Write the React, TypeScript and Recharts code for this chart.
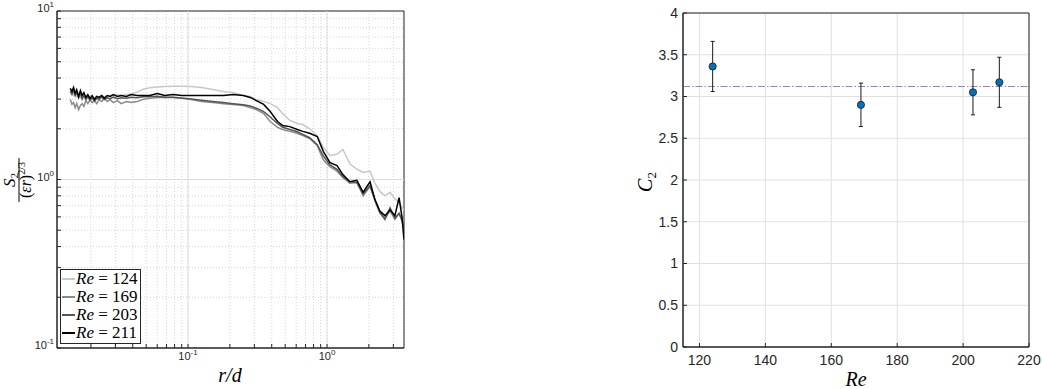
import React from 'react';
import {
  LineChart, Line, XAxis, YAxis, CartesianGrid, ReferenceLine, ReferenceArea, Legend, Label,
  ScatterChart, Scatter, ErrorBar,
} from 'recharts';

// left panel: normalised structure function vs r/d
const rOverD = [
  0.0142, 0.0146, 0.015, 0.0154, 0.0158, 0.0163, 0.0168, 0.0173, 0.0178, 0.0184,
  0.019, 0.0197, 0.0204, 0.0212, 0.022, 0.0229, 0.0239, 0.025, 0.0262, 0.0275,
  0.029, 0.031, 0.033, 0.036, 0.039, 0.043, 0.047, 0.053, 0.06, 0.068,
  0.078, 0.09, 0.105, 0.125, 0.15, 0.18, 0.21, 0.25, 0.28, 0.31,
  0.35, 0.39, 0.44, 0.48, 0.54, 0.61, 0.67, 0.75, 0.85, 0.94,
  1.05, 1.18, 1.3, 1.46, 1.64, 1.82, 2.04, 2.21, 2.4, 2.61,
  2.84, 3.08, 3.3, 3.46, 3.58,
];
const s2Re124 = [
  3.2, 3.3, 3.15, 3.25, 3.1, 3.2, 3.05, 3.15, 3.1, 3.05,
  3.12, 3.0, 3.1, 3.05, 3.12, 3.08, 3.15, 3.1, 3.12, 3.15,
  3.15, 3.18, 3.15, 3.2, 3.22, 3.3, 3.42, 3.5, 3.54, 3.56,
  3.58, 3.58, 3.56, 3.52, 3.42, 3.33, 3.28, 3.15, 3.11, 2.98,
  2.9, 2.82, 2.67, 2.46, 2.24, 2.15, 2.12, 2.0, 1.82, 1.55,
  1.39, 1.41, 1.51, 1.24, 1.15, 1.1, 1.12, 0.95, 0.85, 0.8,
  0.84, 0.77, 0.73, 0.68, 0.66,
];
const s2Re169 = [
  2.98, 2.79, 2.86, 2.67, 2.82, 2.6, 2.75, 2.82, 2.71, 2.94,
  2.82, 2.98, 2.86, 2.94, 2.82, 2.98, 2.9, 3.03, 2.9, 2.98,
  2.86, 2.94, 2.82, 2.9, 2.86, 2.9, 2.98, 3.03, 3.07, 3.07,
  3.07, 3.03, 2.98, 2.9, 2.86, 2.82, 2.79, 2.75, 2.67, 2.6,
  2.46, 2.21, 2.04, 1.98, 1.93, 1.88, 1.82, 1.75, 1.59, 1.31,
  1.19, 1.12, 1.03, 0.95, 0.96, 0.8, 0.91, 0.75, 0.63, 0.59,
  0.65, 0.58, 0.63, 0.59, 0.6,
];
const s2Re203 = [
  3.35, 3.2, 3.4, 3.15, 3.3, 3.05, 3.25, 3.0, 3.15, 2.98,
  3.1, 2.95, 3.05, 2.92, 3.02, 3.0, 3.08, 2.98, 3.05, 3.02,
  3.08, 3.02, 3.06, 3.04, 3.08, 3.06, 3.1, 3.1, 3.12, 3.08,
  3.08, 3.05, 3.0, 2.95, 2.9, 2.86, 2.82, 2.78, 2.73, 2.65,
  2.53, 2.35, 2.15, 2.04, 1.98, 1.92, 1.85, 1.77, 1.61, 1.38,
  1.22, 1.15, 1.04, 0.97, 0.96, 0.82, 0.92, 0.76, 0.64, 0.58,
  0.68, 0.59, 0.63, 0.57, 0.52,
];
const s2Re211 = [
  3.47, 3.33, 3.52, 3.24, 3.41, 3.11, 3.37, 3.15, 3.28, 3.07,
  3.19, 3.03, 3.15, 2.98, 3.11, 3.07, 3.15, 3.03, 3.15, 3.11,
  3.19, 3.11, 3.15, 3.11, 3.19, 3.15, 3.15, 3.15, 3.24, 3.15,
  3.19, 3.15, 3.15, 3.15, 3.15, 3.15, 3.19, 3.15, 3.07, 2.94,
  2.79, 2.53, 2.21, 2.09, 2.06, 1.98, 1.93, 1.88, 1.8, 1.47,
  1.26, 1.21, 1.07, 0.97, 0.99, 0.84, 0.97, 0.76, 0.65, 0.61,
  0.66, 0.61, 0.78, 0.6, 0.44,
];
const reLabels = ['124', '169', '203', '211'];
const lineColors = ['#c8c8c8', '#8a8a8a', '#555555', '#000000'];

const xMajor = [0.1, 1];
const xTicksAll = [0.02, 0.03, 0.04, 0.05, 0.06, 0.07, 0.08, 0.09, 0.1, 0.2, 0.3, 0.4, 0.5, 0.6, 0.7, 0.8, 0.9, 1, 2, 3];
const yMajor = [0.1, 1, 10];
const yTicksAll = [0.1, 0.2, 0.3, 0.4, 0.5, 0.6, 0.7, 0.8, 0.9, 1, 2, 3, 4, 5, 6, 7, 8, 9, 10];

// right panel: C2 vs Re
const reValues = [124, 169, 203, 211];
const c2Values = [3.36, 2.9, 3.05, 3.17];
const c2Errors = [0.3, 0.26, 0.27, 0.3];
const c2Mean = 3.12;
const reTicks = [120, 140, 160, 180, 200, 220];
const c2Ticks = [0, 0.5, 1, 1.5, 2, 2.5, 3, 3.5, 4];

const structData = rOverD.map((r, i) => ({
  r,
  s124: s2Re124[i],
  s169: s2Re169[i],
  s203: s2Re203[i],
  s211: s2Re211[i],
}));
const seriesKeys = ['s124', 's169', 's203', 's211'];

const c2Data = reValues.map((re, i) => ({ re, c2: c2Values[i], err: c2Errors[i] }));

const sans = 'Liberation Sans, Arial, sans-serif';
const serif = 'Liberation Serif, Times New Roman, serif';
const axisGray = '#262626';

const pow10 = (v: number) => Math.round(Math.log10(v));

const LogTickX = (props: any) => {
  const { x, y, payload } = props;
  if (!xMajor.includes(payload.value)) return <g />;
  return (
    <text x={x} y={y} textAnchor="middle" fill={axisGray} fontFamily={sans} fontSize={11}>
      10<tspan dy={-5} fontSize={8}>{pow10(payload.value)}</tspan>
    </text>
  );
};

const LogTickY = (props: any) => {
  const { x, y, payload } = props;
  if (!yMajor.includes(payload.value)) return <g />;
  return (
    <text x={x} y={y + 1} textAnchor="end" fill={axisGray} fontFamily={sans} fontSize={11}>
      10<tspan dy={-5} fontSize={8}>{pow10(payload.value)}</tspan>
    </text>
  );
};

const StructLegend = () => (
  <div
    style={{
      border: `1px solid ${axisGray}`,
      background: '#fff',
      padding: '0 2px 1px 1px',
      fontFamily: serif,
      fontSize: 17,
      lineHeight: '18px',
      color: '#000',
      whiteSpace: 'nowrap',
    }}
  >
    {reLabels.map((re, i) => (
      <div key={re} style={{ display: 'flex', alignItems: 'center' }}>
        <span style={{ display: 'inline-block', width: 13, borderTop: `2px solid ${lineColors[i]}`, marginRight: 1 }} />
        <span><i>Re</i> = {re}</span>
      </div>
    ))}
  </div>
);

const StructYLabel = () => (
  <g transform="translate(19,180) rotate(-90)" fill="#000" fontFamily={serif}>
    <text x={0} y={-4} textAnchor="middle" fontSize={17} fontStyle="italic">
      S<tspan dy={3} fontSize={11} fontStyle="normal">2</tspan>
    </text>
    <line x1={-22} x2={22} y1={0} y2={0} stroke="#000" strokeWidth={1} />
    <text x={0} y={12} textAnchor="middle" fontSize={16}>
      (<tspan fontStyle="italic">εr</tspan>)<tspan dy={-6} fontSize={10}>2/3</tspan>
    </text>
  </g>
);

const C2Dot = (props: any) => {
  const { cx, cy } = props;
  return <circle cx={cx} cy={cy} r={3.6} fill="#0072BD" stroke="#1a1a1a" strokeWidth={0.8} />;
};

export default function App() {
  return (
    <div style={{ position: 'absolute', left: 0, top: 0, width: 1042, height: 389, background: '#fff' }}>
      <div style={{ position: 'absolute', left: 0, top: 0 }}>
        <LineChart width={420} height={389} data={structData} margin={{ top: 11, right: 16, left: 0, bottom: 0 }}>
          <CartesianGrid stroke="#d6d6d6" strokeDasharray="1 2" />
          <ReferenceLine x={0.1} stroke="#dedede" />
          <ReferenceLine x={1} stroke="#dedede" />
          <ReferenceLine y={1} stroke="#dedede" />
          <XAxis
            dataKey="r"
            type="number"
            scale="log"
            domain={[0.0114, 3.58]}
            allowDataOverflow
            ticks={xTicksAll}
            interval={0}
            height={41}
            tickSize={-4}
            tickMargin={16}
            tick={LogTickX}
            tickLine={{ stroke: axisGray }}
            axisLine={{ stroke: axisGray }}
          >
            <Label
              content={() => (
                <text x={230} y={382} textAnchor="middle" fontFamily={serif} fontStyle="italic" fontSize={20} fill="#000">
                  r/d
                </text>
              )}
            />
          </XAxis>
          <YAxis
            type="number"
            scale="log"
            domain={[0.1, 10]}
            allowDataOverflow
            ticks={yTicksAll}
            interval={0}
            width={57}
            tickSize={-4}
            tickMargin={7}
            tick={LogTickY}
            tickLine={{ stroke: axisGray }}
            axisLine={{ stroke: axisGray }}
          >
            <Label content={StructYLabel} />
          </YAxis>
          <ReferenceArea x1={0.0114} x2={3.58} y1={0.1} y2={10} fill="none" stroke={axisGray} strokeWidth={1} />
          {seriesKeys.map((k, i) => (
            <Line
              key={k}
              dataKey={k}
              name={`Re = ${reLabels[i]}`}
              stroke={lineColors[i]}
              strokeWidth={1.5}
              dot={false}
              isAnimationActive={false}
            />
          ))}
          <Legend
            layout="vertical"
            align="center"
            verticalAlign="middle"
            content={StructLegend}
            wrapperStyle={{ left: 60, top: 269, width: 'auto', height: 'auto' }}
          />
        </LineChart>
      </div>
      <div style={{ position: 'absolute', left: 600, top: 0 }}>
        <ScatterChart width={442} height={389} margin={{ top: 13, right: 13, left: 0, bottom: 0 }}>
          <CartesianGrid stroke="#e0e0e0" />
          <XAxis
            dataKey="re"
            type="number"
            domain={[115, 220]}
            allowDataOverflow
            ticks={reTicks}
            interval={0}
            height={42}
            tickSize={-4}
            tickMargin={12}
            tick={{ fill: axisGray, fontSize: 14, fontFamily: sans }}
            tickLine={{ stroke: axisGray }}
            axisLine={{ stroke: axisGray }}
          >
            <Label
              content={() => (
                <text x={256} y={386} textAnchor="middle" fontFamily={serif} fontStyle="italic" fontSize={20} fill="#000">
                  Re
                </text>
              )}
            />
          </XAxis>
          <YAxis
            dataKey="c2"
            type="number"
            domain={[0, 4]}
            allowDataOverflow
            ticks={c2Ticks}
            interval={0}
            width={83}
            tickSize={-4}
            tickMargin={9}
            tick={{ fill: axisGray, fontSize: 14, fontFamily: sans }}
            tickLine={{ stroke: axisGray }}
            axisLine={{ stroke: axisGray }}
          >
            <Label
              content={() => (
                <text
                  x={52}
                  y={182}
                  transform="rotate(-90, 52, 182)"
                  textAnchor="middle"
                  fontFamily={serif}
                  fontStyle="italic"
                  fontSize={20}
                  fill="#000"
                >
                  C<tspan dy={4} fontSize={13} fontStyle="normal">2</tspan>
                </text>
              )}
            />
          </YAxis>
          <ReferenceArea x1={115} x2={220} y1={0} y2={4} fill="none" stroke={axisGray} strokeWidth={1} />
          <ReferenceLine y={c2Mean} stroke="#a47cc0" strokeWidth={1.2} strokeDasharray="7 2 1.5 2" />
          <Scatter data={c2Data} shape={C2Dot} isAnimationActive={false}>
            <ErrorBar dataKey="err" direction="y" width={2} stroke="#1a1a1a" strokeWidth={1} isAnimationActive={false} />
          </Scatter>
        </ScatterChart>
      </div>
    </div>
  );
}
